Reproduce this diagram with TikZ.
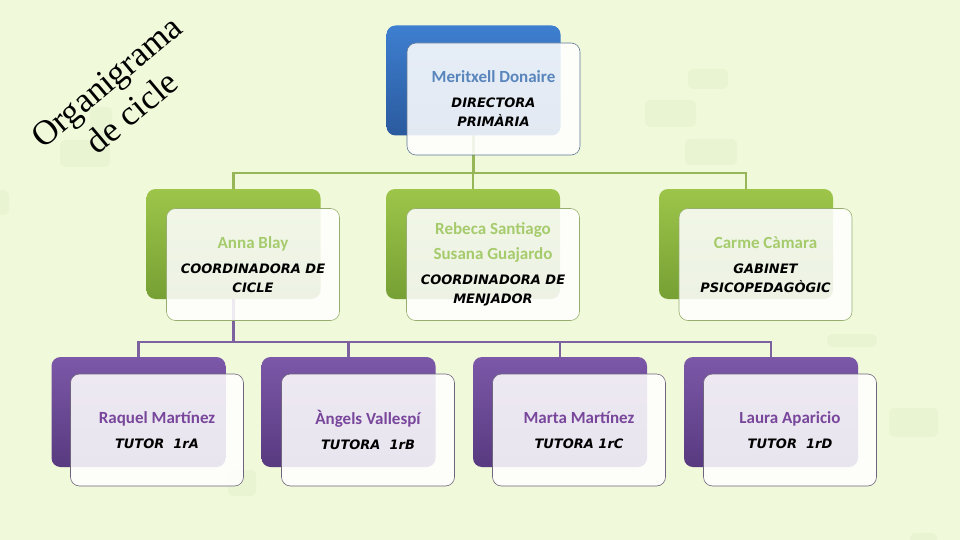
\documentclass[tikz,border=0pt]{standalone}
\usepackage{fontspec}
\setmainfont{Carlito}
\newfontfamily\rolefont{DejaVu Sans}
\newfontfamily\titlefont{Liberation Serif}
\usepackage{tikz}
\usetikzlibrary{backgrounds}
\usepackage{xcolor}
\definecolor{bgGreen}{RGB}{240,249,218}
\definecolor{blobGreen}{RGB}{233,244,210}
\definecolor{blueTop}{RGB}{62,127,208}
\definecolor{blueBot}{RGB}{42,90,158}
\definecolor{greenTop}{RGB}{157,197,74}
\definecolor{greenBot}{RGB}{118,160,52}
\definecolor{purpleTop}{RGB}{124,88,168}
\definecolor{purpleBot}{RGB}{88,58,128}
\definecolor{blueEdge}{RGB}{96,120,150}
\definecolor{greenEdge}{RGB}{150,175,110}
\definecolor{purpleEdge}{RGB}{110,100,125}
\definecolor{nameBlue}{RGB}{88,133,188}
\definecolor{nameGreen}{RGB}{165,203,108}
\definecolor{namePurple}{RGB}{120,70,155}
\definecolor{lineGreen}{RGB}{150,182,88}
\definecolor{linePurple}{RGB}{124,98,158}

\newcommand{\pname}[2]{\textcolor{#1}{\rmfamily\upshape\bfseries\fontsize{17}{19}\selectfont #2}}

\begin{document}
\begin{tikzpicture}[
  x=1pt, y=-1pt,
  backbox/.style={
    rectangle, rounded corners=9pt, inner sep=0pt,
    minimum width=174pt, minimum height=110pt,
    top color=#1Top, bottom color=#1Bot, draw=none
  },
  frontbox/.style={
    rectangle, rounded corners=9pt, inner sep=2pt,
    minimum width=173pt, minimum height=112pt,
    draw=#1Edge, line width=0.6pt,
    fill=white, fill opacity=0.87, text opacity=1,
    align=center, font=\rolefont\bfseries\itshape\fontsize{13}{19}\selectfont
  },
  link/.style={draw=#1, line width=2.6pt},
  blob/.style={fill=blobGreen, rounded corners=6pt, draw=none}
]
  \useasboundingbox (0,0) rectangle (960,540);

  % Title
  \node[font=\titlefont\fontsize{35}{40}\selectfont, rotate=40, align=center]
    (title) at (119,97) {Organigrama\\de cicle};

  % Direction
  \node[backbox=blue] (dirB) at (473.5,80.5) {};
  \node[frontbox=blue] (dirF) at (493.5,99)
    {\pname{nameBlue}{Meritxell Donaire}\\[6pt]DIRECTORA\\PRIMÀRIA};

  % Coordination
  \node[backbox=green] (annaB) at (233.5,244) {};
  \node[backbox=green] (rebB)  at (473,244) {};
  \node[backbox=green] (carB)  at (746,244) {};
  \node[frontbox=green] (annaF) at (253,264.5)
    {\pname{nameGreen}{Anna Blay}\\[6pt]COORDINADORA DE\\CICLE};
  \node[frontbox=green] (rebF) at (493,264.5)
    {\pname{nameGreen}{Rebeca Santiago}\\[6pt]\pname{nameGreen}{Susana Guajardo}\\[6pt]%
     COORDINADORA DE\\MENJADOR};
  \node[frontbox=green] (carF) at (765.5,264.5)
    {\pname{nameGreen}{Carme Càmara}\\[6pt]GABINET\\PSICOPEDAGÒGIC};

  % Tutors
  \node[backbox=purple] (rqB) at (138.5,412) {};
  \node[backbox=purple] (agB) at (348.5,412) {};
  \node[backbox=purple] (mtB) at (560,412) {};
  \node[backbox=purple] (lrB) at (771,412) {};
  \node[frontbox=purple] (rqF) at (157,430)
    {\pname{namePurple}{Raquel Martínez}\\[6pt]TUTOR\ \ 1rA};
  \node[frontbox=purple] (agF) at (368,430)
    {\pname{namePurple}{Àngels Vallespí}\\[6pt]TUTORA\ \ 1rB};
  \node[frontbox=purple] (mtF) at (579,430)
    {\pname{namePurple}{Marta Martínez}\\[6pt]TUTORA 1rC};
  \node[frontbox=purple] (lrF) at (790,430)
    {\pname{namePurple}{Laura Aparicio}\\[6pt]TUTOR\ \ 1rD};

  \coordinate (busG) at (0,173);
  \coordinate (busP) at (0,342);

  \begin{scope}[on background layer]
    \fill[bgGreen] (0,0) rectangle (960,540);
    % faint blobs
    \fill[blob] (688,69) rectangle (728,89);
    \fill[blob] (645,100) rectangle (696,127);
    \fill[blob] (685,139) rectangle (737,165);
    \fill[blob] (60,140) rectangle (110,167);
    \fill[blob] (90,107) rectangle (112,140);
    \fill[blob] (-8,190) rectangle (9,215);
    \fill[blob] (827,334) rectangle (877,347);
    \fill[blob] (889,408) rectangle (938,437);
    \fill[blob] (910,533) rectangle (937,548);
    \fill[blob] (228,470) rectangle (256,496);

    \foreach \kid in {annaB,rebB,carB}
      \draw[link=lineGreen] (dirB.center) |- (\kid |- busG) -- (\kid.center);
    \foreach \kid in {rqB,agB,mtB,lrB}
      \draw[link=linePurple] (annaB.center) |- (\kid |- busP) -- (\kid.center);
  \end{scope}
\end{tikzpicture}
\end{document}
